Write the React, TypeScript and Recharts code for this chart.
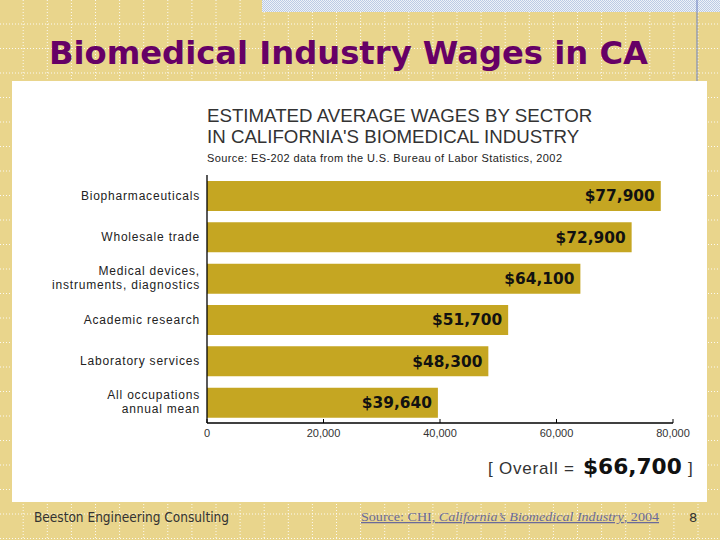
import { BarChart, Bar, XAxis, YAxis, LabelList } from "recharts";

const sectors = [
  "Biopharmaceuticals",
  "Wholesale trade",
  "Medical devices,\ninstruments, diagnostics",
  "Academic research",
  "Laboratory services",
  "All occupations\nannual mean",
];
const wages = [77900, 72900, 64100, 51700, 48300, 39640];
const xTicks = [0, 20000, 40000, 60000, 80000];
const overallWage = 66700;

const data = sectors.map((sector, i) => ({ sector, wage: wages[i] }));

const BG = "#E9D58C";
const BAR = "#C5A622";
const SANS = "'Liberation Sans', Arial, sans-serif";
const BOLD_NUM = "'DejaVu Sans', sans-serif";

const money = (v: number) => "$" + v.toLocaleString("en-US");

// background dotted grid of the slide template
const gridX = Array.from({ length: 31 }, (_, k) => 24.1 * k - 0.9);
const gridY = Array.from({ length: 23 }, (_, k) => 24.5 * k - 0.5);

function SectorTick(props: any) {
  const { x, y, payload } = props;
  const lines = String(payload.value).split("\n");
  const lh = 14;
  const start = y - ((lines.length - 1) * lh) / 2;
  return (
    <text
      textAnchor="end"
      dominantBaseline="central"
      fill="#222"
      fontFamily={SANS}
      fontSize={12}
      style={{ letterSpacing: "0.8px" }}
    >
      {lines.map((l, i) => (
        <tspan key={i} x={x} y={start + i * lh}>
          {l}
        </tspan>
      ))}
    </text>
  );
}

export default function App() {
  return (
    <div
      style={{
        position: "absolute",
        left: 0,
        top: 0,
        width: 720,
        height: 540,
        overflow: "hidden",
        background: BG,
      }}
    >
      <svg
        width={720}
        height={540}
        style={{ position: "absolute", left: 0, top: 0 }}
      >
        <defs>
          <pattern id="check" width={2} height={2} patternUnits="userSpaceOnUse">
            <rect width={2} height={2} fill="#EEF2F8" />
            <rect width={1} height={1} fill="#BCCBE4" />
            <rect x={1} y={1} width={1} height={1} fill="#BCCBE4" />
          </pattern>
        </defs>
        {gridX.map((gx, i) => (
          <line key={"gx" + i} x1={gx} x2={gx} y1={0} y2={540} stroke="#fff" strokeDasharray="1 2" opacity={0.9} />
        ))}
        {gridY.map((gy, i) => (
          <line key={"gy" + i} x1={0} x2={720} y1={gy} y2={gy} stroke="#fff" strokeDasharray="1 2" opacity={0.9} />
        ))}
        <rect x={262} y={0} width={458} height={12} fill="url(#check)" />
        <line x1={697} x2={697} y1={0} y2={81} stroke="#6B7FC0" strokeWidth={1} />

        <text
          x={49}
          y={64}
          fontFamily={BOLD_NUM}
          fontWeight="bold"
          fontSize={32}
          fill="#660066"
          textLength={599}
          lengthAdjust="spacingAndGlyphs"
        >
          Biomedical Industry Wages in CA
        </text>

        <rect x={12} y={81} width={695} height={421} fill="#fff" />

        <text x={207} y={122} fontFamily={SANS} fontSize={18.7} fill="#333">
          ESTIMATED AVERAGE WAGES BY SECTOR
        </text>
        <text x={207} y={143} fontFamily={SANS} fontSize={18.7} fill="#333">
          IN CALIFORNIA'S BIOMEDICAL INDUSTRY
        </text>
        <text
          x={207}
          y={162}
          fontFamily={SANS}
          fontSize={11}
          fill="#222"
          textLength={355}
          lengthAdjust="spacing"
        >
          Source: ES-202 data from the U.S. Bureau of Labor Statistics, 2002
        </text>

        <text x={488} y={474} fontFamily={SANS} fontSize={17} fill="#333" style={{ letterSpacing: "0.8px" }}>
          [ Overall =
        </text>
        <text x={583} y={474} fontFamily={BOLD_NUM} fontWeight="bold" fontSize={21.7} fill="#111">
          {money(overallWage)}
        </text>
        <text x={688} y={474} fontFamily={SANS} fontSize={17} fill="#333">
          ]
        </text>

        <text
          x={34}
          y={522}
          fontFamily={BOLD_NUM}
          fontSize={13.5}
          fill="#333"
          textLength={195}
          lengthAdjust="spacingAndGlyphs"
        >
          Beeston Engineering Consulting
        </text>
        <text
          x={361}
          y={521}
          fontFamily="'Liberation Serif', serif"
          fontSize={12.5}
          fill="#6A6A9A"
          textDecoration="underline"
          textLength={298}
          lengthAdjust="spacingAndGlyphs"
        >
          Source: CHI, <tspan fontStyle="italic">California’s Biomedical Industry</tspan>, 2004
        </text>
        <text x={689} y={522} fontFamily={BOLD_NUM} fontSize={13} fill="#333">
          8
        </text>
      </svg>

      <div style={{ position: "absolute", left: 0, top: 0 }}>
        <BarChart
          width={720}
          height={540}
          data={data}
          layout="vertical"
          margin={{ top: 175, right: 47, bottom: 87, left: 47 }}
        >
          <XAxis
            type="number"
            domain={[0, 80000]}
            ticks={xTicks}
            height={30}
            tickFormatter={(v: number) => v.toLocaleString("en-US")}
            axisLine={{ stroke: "#000", strokeWidth: 1.3 }}
            tickLine={{ stroke: "#000" }}
            tickSize={-4}
            tickMargin={10}
            tick={{ fill: "#333", fontSize: 11, fontFamily: SANS }}
          />
          <YAxis
            type="category"
            dataKey="sector"
            width={160}
            axisLine={{ stroke: "#000", strokeWidth: 1.3 }}
            tickLine={false}
            tickMargin={1}
            tick={<SectorTick />}
          />
          <Bar dataKey="wage" fill={BAR} barSize={30} isAnimationActive={false}>
            <LabelList
              dataKey="wage"
              position="insideRight"
              offset={6}
              formatter={(v: any) => money(Number(v))}
              fill="#111"
              fontFamily={BOLD_NUM}
              fontWeight="bold"
              fontSize={15.4}
            />
          </Bar>
        </BarChart>
      </div>
    </div>
  );
}
